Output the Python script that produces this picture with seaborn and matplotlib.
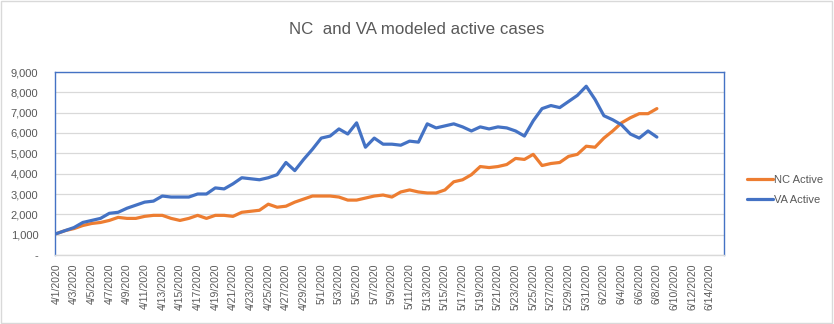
import matplotlib
matplotlib.use("Agg")
import matplotlib.pyplot as plt
import seaborn as sns
import pandas as pd
import numpy as np
from matplotlib.ticker import FuncFormatter, FixedLocator
from matplotlib.patches import Rectangle

va_active = [1050, 1200, 1350, 1600, 1700, 1800, 2050, 2100, 2300, 2450,
             2600, 2650, 2900, 2850, 2850, 2850, 3000, 3000, 3300, 3250,
             3500, 3800, 3750, 3700, 3800, 3950, 4550, 4150, 4700, 5200,
             5750, 5850, 6200, 5950, 6500, 5300, 5750, 5450, 5450, 5400,
             5600, 5550, 6450, 6250, 6350, 6450, 6300, 6100, 6300, 6200,
             6300, 6250, 6100, 5850, 6600, 7200, 7350, 7250, 7550, 7850,
             8300, 7650, 6850, 6650, 6400, 5950, 5750, 6100, 5800]
nc_active = [1050, 1200, 1300, 1450, 1550, 1600, 1700, 1850, 1800, 1800,
             1900, 1950, 1950, 1800, 1700, 1800, 1950, 1800, 1950, 1950,
             1900, 2100, 2150, 2200, 2500, 2350, 2400, 2600, 2750, 2900,
             2900, 2900, 2850, 2700, 2700, 2800, 2900, 2950, 2850, 3100,
             3200, 3100, 3050, 3050, 3200, 3600, 3700, 3950, 4350, 4300,
             4350, 4450, 4750, 4700, 4950, 4400, 4500, 4550, 4850, 4950,
             5350, 5300, 5750, 6100, 6500, 6750, 6950, 6950, 7200]
axis_dates = pd.date_range("2020-04-01", "2020-06-15", freq="D")
tick_labels = [f"{d.month}/{d.day}/{d.year}" for d in axis_dates[::2]]
y_ticks = [0, 1000, 2000, 3000, 4000, 5000, 6000, 7000, 8000, 9000]

n = len(nc_active)
df = pd.DataFrame({
    "day": list(range(n)) * 2,
    "value": nc_active + va_active,
    "series": ["NC Active"] * n + ["VA Active"] * n,
})

sns.set_theme(style="white")
plt.rcParams['font.family'] = ['Liberation Sans', 'DejaVu Sans']

fig = plt.figure(figsize=(8.34, 3.24), dpi=100)
ax = fig.add_axes([55/834, 1 - 255/324, (724 - 55)/834, (255 - 72)/324])

palette = {"NC Active": "#ED7D31", "VA Active": "#4472C4"}
sns.lineplot(data=df, x="day", y="value", hue="series", palette=palette,
             linewidth=2.3, ax=ax, legend=True)

ax.set_xlim(-0.15, 75.6)
ax.set_ylim(0, 9000)
ax.yaxis.set_major_locator(FixedLocator(y_ticks))
ax.yaxis.set_major_formatter(FuncFormatter(lambda v, p: "-" if v == 0 else f"{int(v):,}"))
ax.grid(axis="y", color="#D9D9D9", linewidth=0.9)
ax.set_axisbelow(True)
ax.set_xticks(list(range(0, len(axis_dates), 2)))
ax.set_xticklabels(tick_labels, rotation=90, fontsize=7.5, color="#595959")
ax.tick_params(axis="y", labelsize=8, labelcolor="#595959", length=0, pad=12)
ax.tick_params(axis="x", length=0, pad=6)
ax.set_xlabel("")
ax.set_ylabel("")

for side in ["top", "left", "right"]:
    ax.spines[side].set_color("#4472C4")
    ax.spines[side].set_linewidth(1.0)
ax.spines["bottom"].set_color("#D9D9D9")
ax.spines["bottom"].set_linewidth(1.0)

handles, labels = ax.get_legend_handles_labels()
ax.legend(handles, labels, loc="center left", bbox_to_anchor=(737/834, 1 - 190/324),
          bbox_transform=fig.transFigure, frameon=False, fontsize=8,
          handlelength=2.3, handletextpad=0.1, labelspacing=0.9,
          labelcolor="#595959")

fig.text(0.5, 1 - 30/324, "NC  and VA modeled active cases", ha="center", va="center",
         fontsize=12.2, color="#595959")

fig.patches.append(Rectangle((0.001, 0.002), 0.997, 0.995, transform=fig.transFigure,
                             fill=False, edgecolor="#D9D9D9", linewidth=1.0))

fig.savefig("out.png", dpi=100)
